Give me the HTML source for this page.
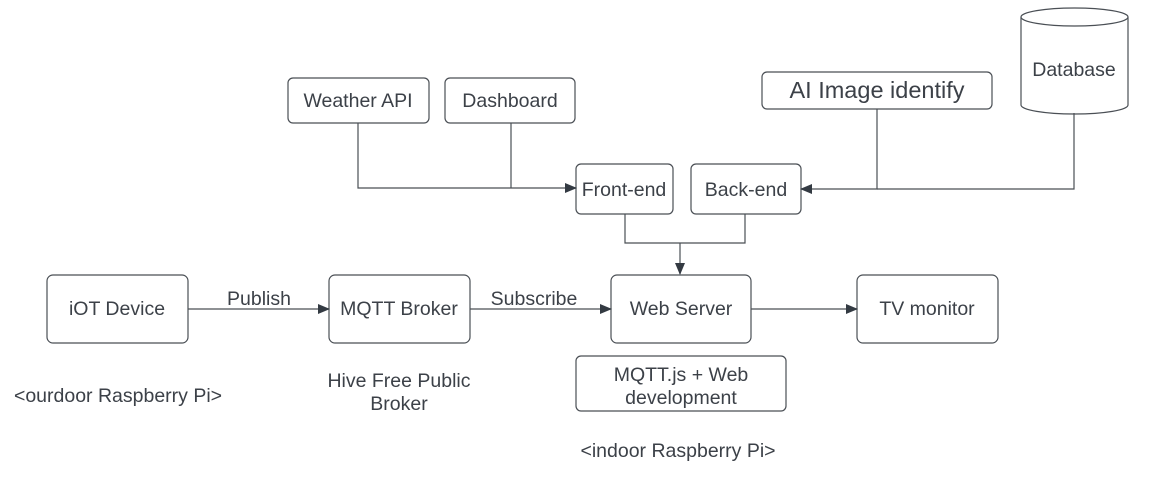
<!DOCTYPE html>
<html><head><meta charset="utf-8"><style>
body{margin:0;background:#fff;}
svg text{font-family:"Liberation Sans",sans-serif;fill:#3c4148;}
</style></head><body>
<svg width="1150" height="475" viewBox="0 0 1150 475" xmlns="http://www.w3.org/2000/svg">
<defs><marker id="a" markerWidth="12" markerHeight="10" refX="11" refY="5" orient="auto" markerUnits="userSpaceOnUse"><path d="M0,0 L12,5 L0,10 Z" fill="#333a42"/></marker></defs>
<g fill="#fff" stroke="#4a4f55" stroke-width="1.2">
<rect x="288" y="78" width="141" height="45" rx="5"/>
<rect x="445" y="78" width="130" height="45" rx="5"/>
<rect x="762" y="72" width="230" height="37" rx="5"/>
<rect x="576" y="164" width="97" height="50" rx="5"/>
<rect x="691" y="164" width="110" height="50" rx="5"/>
<rect x="47" y="275" width="141" height="68" rx="6"/>
<rect x="329" y="275" width="141" height="68" rx="6"/>
<rect x="611" y="275" width="140" height="68" rx="6"/>
<rect x="857" y="275" width="141" height="68" rx="6"/>
<rect x="576" y="356" width="210" height="55" rx="5"/>
<path d="M1021,17 L1021,105 A53.5,9 0 0 0 1128,105 L1128,17"/>
<ellipse cx="1074.5" cy="17" rx="53.5" ry="9"/>
</g>
<g fill="none" stroke="#4a4f55" stroke-width="1.2">
<path d="M358,123 V188 H576" marker-end="url(#a)"/>
<path d="M511,123 V188"/>
<path d="M877,109 V189 H801" marker-end="url(#a)"/>
<path d="M1074,113 V189 H877"/>
<path d="M625,214 V243 H745 V214"/>
<path d="M680,243 V274" marker-end="url(#a)"/>
<path d="M188,309 H329" marker-end="url(#a)"/>
<path d="M470,309 H611" marker-end="url(#a)"/>
<path d="M751,309 H857" marker-end="url(#a)"/>
</g>
<g font-size="19.5" text-anchor="middle">
<text x="358" y="107">Weather API</text>
<text x="510" y="107">Dashboard</text>
<text x="877" y="98" font-size="23.5" fill="#222">AI Image identify</text>
<text x="1074" y="76">Database</text>
<text x="624" y="196">Front-end</text>
<text x="746" y="196">Back-end</text>
<text x="117" y="315">iOT Device</text>
<text x="399" y="315">MQTT Broker</text>
<text x="681" y="315">Web Server</text>
<text x="927" y="315">TV monitor</text>
<text x="259" y="305">Publish</text>
<text x="534" y="305">Subscribe</text>
<text x="681" y="381" fill="#222">MQTT.js + Web</text>
<text x="681" y="404" fill="#222">development</text>
<text x="399" y="387">Hive Free Public</text>
<text x="399" y="410">Broker</text>
<text x="118" y="402">&lt;ourdoor Raspberry Pi&gt;</text>
<text x="678" y="457">&lt;indoor Raspberry Pi&gt;</text>
</g>
</svg>
</body></html>
